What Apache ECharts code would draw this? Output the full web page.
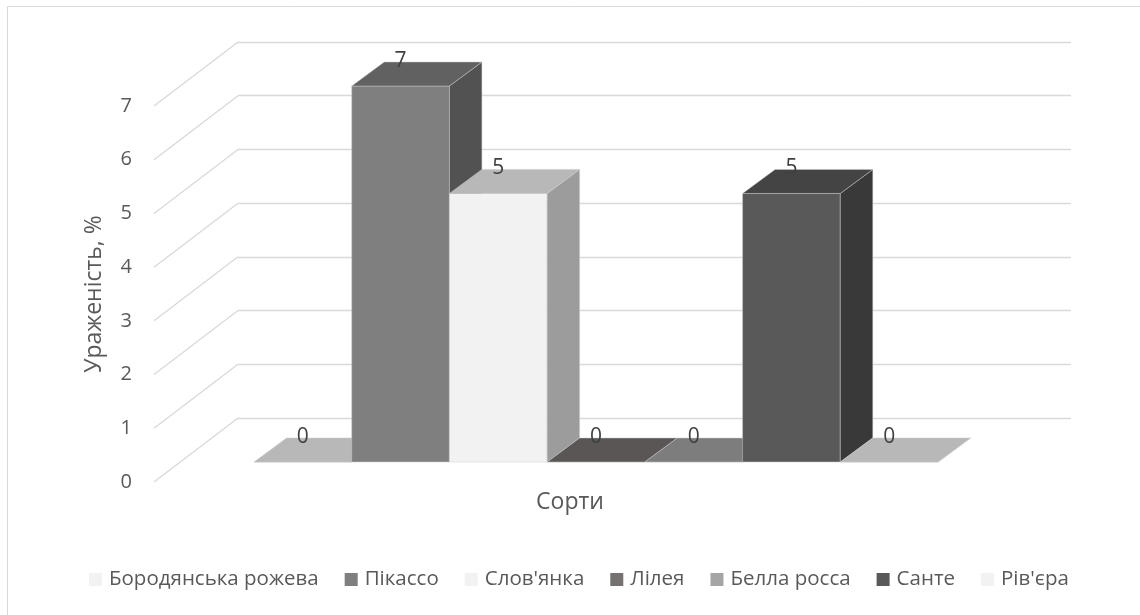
<!DOCTYPE html>
<html>
<head>
<meta charset="utf-8">
<script src="https://cdn.jsdelivr.net/npm/echarts/dist/echarts.min.js"></script>
<style>
  html, body { margin: 0; padding: 0; background: #fff; }
  #chart { width: 1140px; height: 615px; }
</style>
</head>
<body>
<div id="chart"></div>
<script>
// Potato varieties and their infection level, %
const varieties = ['Бородянська рожева', 'Пікассо', "Слов'янка", 'Лілея', 'Белла росса', 'Санте', "Рів'єра"];
const infection = [0, 7, 5, 0, 0, 5, 0];
const colors = ['#f2f2f2', '#7f7f7f', '#f2f2f2', '#767171', '#a5a5a5', '#595959', '#f2f2f2'];
const yTicks = [0, 1, 2, 3, 4, 5, 6, 7];
const categoryTitle = 'Сорти';
const valueTitle = 'Ураженість, %';

// Oblique 3D layout
const FONT = '"Open Sans", "Noto Sans", sans-serif';
const FRONT = { left: 154, top: 106, bottom: 133 };      // front edge of the floor (value labels)
const DEPTH = [84, -64];                                   // front edge -> back wall
const BAR_OFFSET = 20;                                     // vertical shift of the bar front plane
const BAR_DEPTH = [32.5, -24];                             // bar thickness along depth
const BAR_SPAN = { left: 254, right: 202 };

function shade(hex, k) {
  const n = parseInt(hex.slice(1), 16);
  const rgb = [(n >> 16) & 255, (n >> 8) & 255, n & 255].map(c => Math.round(c * k));
  return 'rgb(' + rgb.join(',') + ')';
}

const chart = echarts.init(document.getElementById('chart'), null, { renderer: 'canvas' });

const barSeries = varieties.map((name, i) => ({
  type: 'custom',
  name: name,
  xAxisIndex: 0,
  yAxisIndex: 0,
  z: 10,
  itemStyle: { color: colors[i] },
  data: [[i, infection[i]]],
  renderItem: function (params, api) {
    const xi = api.value(0), v = api.value(1);
    const base = api.coord([xi, 0]);
    const top = api.coord([xi, v]);
    const w = api.size([1, 0])[0];
    const x0 = base[0] - w / 2, x1 = base[0] + w / 2;
    const y0 = base[1], y1 = top[1];
    const dx = BAR_DEPTH[0], dy = BAR_DEPTH[1];
    const c = colors[i];
    const edge = { stroke: 'rgba(205,205,205,0.6)', lineWidth: 0.8 };
    return {
      type: 'group',
      children: [
        { type: 'polygon', shape: { points: [[x0, y0], [x1, y0], [x1, y1], [x0, y1]] },
          style: Object.assign({ fill: c }, edge) },
        { type: 'polygon', shape: { points: [[x1, y0], [x1 + dx, y0 + dy], [x1 + dx, y1 + dy], [x1, y1]] },
          style: Object.assign({ fill: shade(c, 0.645) }, edge) },
        { type: 'polygon', shape: { points: [[x0, y1], [x1, y1], [x1 + dx, y1 + dy], [x0 + dx, y1 + dy]] },
          style: Object.assign({ fill: shade(c, 0.76) }, edge) },
        { type: 'text', z2: 10,
          style: { text: String(v), x: base[0], y: y1 + dy - 1, align: 'center', verticalAlign: 'middle',
                   fontSize: 21, fontFamily: FONT, fill: '#404040' } }
      ]
    };
  }
}));

const option = {
  animation: false,
  backgroundColor: '#ffffff',
  grid: [
    // bar front plane
    { left: BAR_SPAN.left, right: BAR_SPAN.right, top: FRONT.top - BAR_OFFSET, bottom: FRONT.bottom + BAR_OFFSET },
    // front edge of the floor
    { left: FRONT.left, right: 140, top: FRONT.top, bottom: FRONT.bottom },
    // back wall
    { left: FRONT.left + DEPTH[0], right: 69, top: FRONT.top + DEPTH[1], bottom: FRONT.bottom - DEPTH[1] }
  ],
  xAxis: [
    { gridIndex: 0, type: 'category', data: varieties, boundaryGap: true, show: false },
    { gridIndex: 1, type: 'value', min: 0, max: 1, show: false },
    { gridIndex: 2, type: 'value', min: 0, max: 1, show: false }
  ],
  yAxis: [
    { gridIndex: 0, type: 'value', min: 0, max: 7, interval: 1, show: false },
    { gridIndex: 1, type: 'value', min: 0, max: 7, interval: 1,
      axisLine: { show: false }, axisTick: { show: false }, splitLine: { show: false },
      axisLabel: { margin: 22, color: '#595959', fontSize: 20, fontFamily: FONT },
      name: valueTitle, nameLocation: 'middle', nameGap: 48, nameRotate: 90,
      nameTextStyle: { color: '#595959', fontSize: 23, fontFamily: FONT } },
    { gridIndex: 2, type: 'value', min: 0, max: 7, interval: 1,
      axisLine: { show: false }, axisTick: { show: false }, axisLabel: { show: false },
      splitLine: { show: true, lineStyle: { color: '#d9d9d9', width: 1.3 } } }
  ],
  legend: {
    data: varieties,
    left: 89,
    top: 569,
    padding: 0,
    itemGap: 26,
    itemWidth: 13,
    itemHeight: 13,
    icon: 'rect',
    textStyle: { color: '#595959', fontSize: 20.5, fontFamily: FONT, padding: [0, 0, 0, 2] }
  },
  graphic: [
    { type: 'rect', silent: true, z: -10,
      shape: { x: 7.5, y: 6.5, width: 1150, height: 620 },
      style: { fill: 'none', stroke: '#d9d9d9', lineWidth: 1 } },
    { type: 'text', silent: true,
      x: 570, y: 502,
      style: { text: categoryTitle, align: 'center', verticalAlign: 'middle',
               fontSize: 23, fontFamily: FONT, fill: '#595959' } }
  ],
  series: [
    {
      type: 'custom',
      xAxisIndex: 1,
      yAxisIndex: 1,
      silent: true,
      z: 1,
      data: yTicks.map(t => [0, t]),
      renderItem: function (params, api) {
        const s = api.coord([0, api.value(1)]);
        return { type: 'line',
                 shape: { x1: s[0], y1: s[1], x2: s[0] + DEPTH[0], y2: s[1] + DEPTH[1] },
                 style: { stroke: '#d9d9d9', lineWidth: 1.3 } };
      }
    }
  ].concat(barSeries)
};

chart.setOption(option);
</script>
</body>
</html>
